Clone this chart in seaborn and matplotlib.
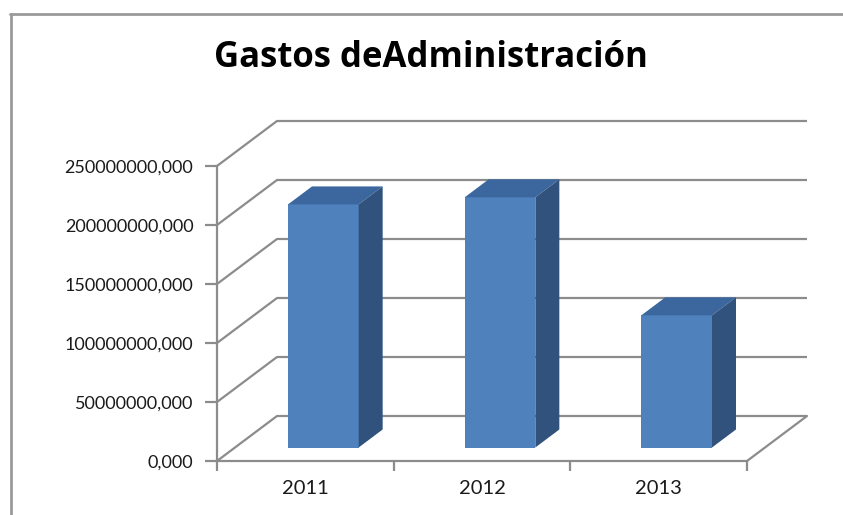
import numpy as np
import pandas as pd
import matplotlib
matplotlib.use("Agg")
import matplotlib.pyplot as plt
from matplotlib.lines import Line2D
from matplotlib.patches import Polygon
import seaborn as sns

# ---- data ----
years = ["2011", "2012", "2013"]
values = [206e6, 212e6, 112e6]
ytick_values = [0, 50e6, 100e6, 150e6, 200e6, 250e6]
ytick_labels = ["0,000", "50000000,000", "100000000,000",
                "150000000,000", "200000000,000", "250000000,000"]
title = "Gastos deAdministración"

# ---- style ----
sns.set_style("white")
plt.rcParams["font.family"] = ["Lato", "DejaVu Sans"]

FRONT = "#4F81BD"
TOP = "#3C679E"
SIDE = "#30527C"
GRID = "#8C8C8C"
TXT = "#1A1A1A"

W, H = 843, 515
fig = plt.figure(figsize=(W / 100, H / 100), dpi=100)
fig.patch.set_facecolor("white")

# front plane of the 3D box
left_px, right_px, bot_px, top_px = 217, 747, 461, 166
ax = fig.add_axes([left_px / W, (H - bot_px) / H,
                   (right_px - left_px) / W, (bot_px - top_px) / H])
ax.set_facecolor("none")

df = pd.DataFrame({"Año": years, "Gasto": values})
sns.barplot(data=df, x="Año", y="Gasto", width=0.4, color=FRONT,
            saturation=1, ax=ax, zorder=3)
ax.set_xlim(-0.5, 2.5)
ax.set_ylim(0, 250e6)

# depth offsets (oblique projection) in data units
px_per_cat = (right_px - left_px) / 3
px_per_val = (bot_px - top_px) / 250e6
DX_PX, DY_PX = 60, 45
ddx = DX_PX / px_per_cat
ddy = DY_PX / px_per_val
f, b = 0.3, 0.7   # bar front / back depth fractions

# walls & gridlines
for v in ytick_values:
    ax.plot([-0.5 + ddx, 2.5 + ddx], [v + ddy, v + ddy], color=GRID,
            lw=1.6, clip_on=False, zorder=1, solid_capstyle="butt")
    ax.plot([-0.5, -0.5 + ddx], [v, v + ddy], color=GRID, lw=1.6,
            clip_on=False, zorder=1)
ax.plot([2.5, 2.5 + ddx], [0, ddy], color=GRID, lw=1.6, clip_on=False, zorder=1)

# 3D bars: shift seaborn's bars into depth and add top/side faces
for p in ax.patches:
    x0, w, h = p.get_x(), p.get_width(), p.get_height()
    p.set_x(x0 + f * ddx)
    p.set_y(f * ddy)
    p.set_edgecolor("none")
    p.set_clip_on(False)
    top = Polygon([(x0 + f * ddx, h + f * ddy), (x0 + w + f * ddx, h + f * ddy),
                   (x0 + w + b * ddx, h + b * ddy), (x0 + b * ddx, h + b * ddy)],
                  closed=True, facecolor=TOP, edgecolor="none", zorder=3,
                  clip_on=False)
    side = Polygon([(x0 + w + f * ddx, f * ddy), (x0 + w + b * ddx, b * ddy),
                    (x0 + w + b * ddx, h + b * ddy), (x0 + w + f * ddx, h + f * ddy)],
                   closed=True, facecolor=SIDE, edgecolor="none", zorder=3,
                   clip_on=False)
    ax.add_patch(top)
    ax.add_patch(side)

# spines
for s in ["top", "right"]:
    ax.spines[s].set_visible(False)
for s in ["left", "bottom"]:
    ax.spines[s].set_color(GRID)
    ax.spines[s].set_linewidth(1.6)

ax.set_xlabel("")
ax.set_ylabel("")
ax.set_yticks(ytick_values, ytick_labels)
ax.tick_params(axis="y", length=9, width=1.6, color=GRID, pad=8,
               labelsize=13, labelcolor=TXT, direction="out", left=True)
ax.set_xticks([-0.5, 0.5, 1.5, 2.5], ["", "", "", ""])
ax.set_xticks([0, 1, 2], years, minor=True)
ax.tick_params(axis="x", which="major", length=7, width=1.6, color=GRID,
               direction="out", bottom=True)
ax.tick_params(axis="x", which="minor", length=0, pad=14, labelsize=14.5,
               labelcolor=TXT)

# outer chart border (left and top only visible)
fig.add_artist(Line2D([10.5 / W, 10.5 / W], [0, 1 - 14 / H],
                      transform=fig.transFigure, color="#9A9A9A", lw=2))
fig.add_artist(Line2D([10 / W, 1], [1 - 14.5 / H, 1 - 14.5 / H],
                      transform=fig.transFigure, color="#9A9A9A", lw=2))

fig.text(430.5 / W, 1 - 58 / H, title, ha="center", va="center",
         fontsize=25, fontweight="bold", color="black",
         family=["Open Sans", "DejaVu Sans"])

fig.savefig("out.png", dpi=100)
